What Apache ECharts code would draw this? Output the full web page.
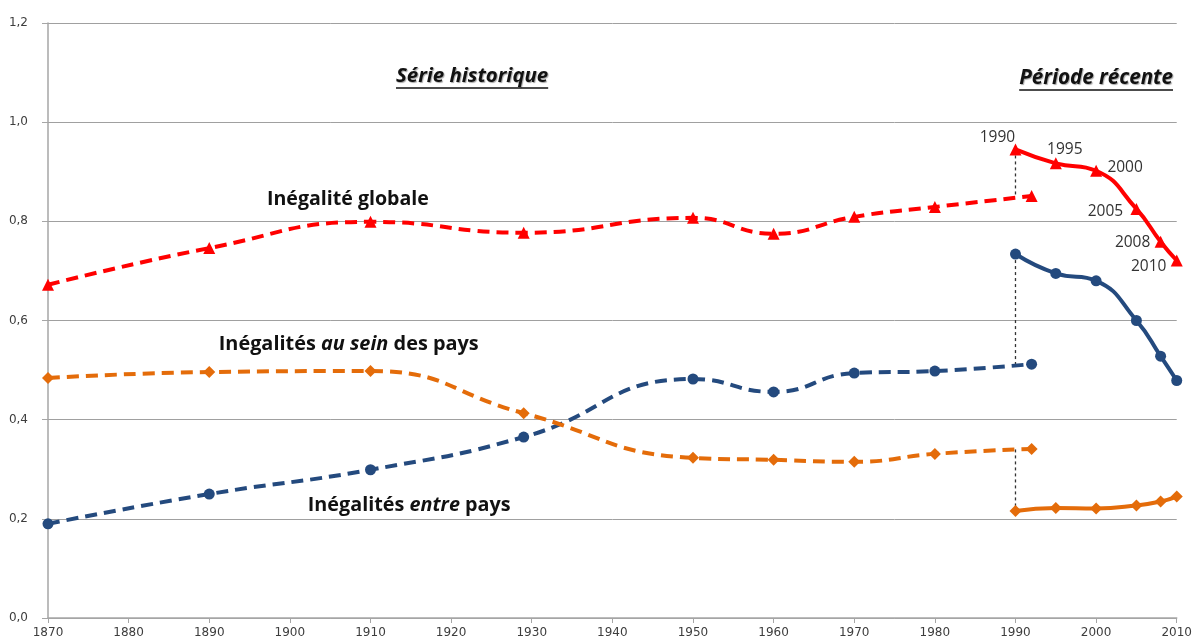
<!DOCTYPE html>
<html>
<head>
<meta charset="utf-8">
<script src="https://cdn.jsdelivr.net/npm/echarts@6/dist/echarts.min.js"></script>
<style>
html,body{margin:0;padding:0;background:#fff;}
#chart{width:1195px;height:642px;}
</style>
</head>
<body>
<div id="chart"></div>
<script>
// ---- data ----
const histYears = [1870, 1890, 1910, 1929, 1950, 1960, 1970, 1980, 1992];
const recentYears = [1990, 1995, 2000, 2005, 2008, 2010];

const globalHist = [0.672, 0.746, 0.799, 0.777, 0.807, 0.775, 0.809, 0.829, 0.851];
const globalRecent = [0.945, 0.917, 0.902, 0.825, 0.759, 0.721];

const betweenHist = [0.190, 0.250, 0.299, 0.365, 0.482, 0.456, 0.494, 0.498, 0.512];
const betweenRecent = [0.734, 0.695, 0.680, 0.600, 0.528, 0.479];

const withinHist = [0.484, 0.496, 0.498, 0.413, 0.323, 0.319, 0.315, 0.331, 0.341];
const withinRecent = [0.216, 0.222, 0.221, 0.227, 0.235, 0.245];

// connectors at 1990 (value on dashed curve at 1990)
const connectorYear = 1990;
const globalAt1990 = 0.850;
const betweenAt1990 = 0.511;
const withinAt1990 = 0.340;

const yTicks = [0, 0.2, 0.4, 0.6, 0.8, 1.0, 1.2];

const RED = '#ff0000', BLUE = '#244a7e', ORANGE = '#e46c0a';

function pairs(xs, ys) { return xs.map((x, i) => [x, ys[i]]); }

// year label offsets (pixel) for recent global points
const labelOffsets = [[-18, -12], [9, -14], [29, -3], [-31, 3], [-28, 1], [-28, 6]];

const chart = echarts.init(document.getElementById('chart'), null, {renderer: 'canvas'});

const dashed = [12, 7];

function lineSeries(name, data, color, symbol, size, dash, extra) {
  return Object.assign({
    name: name,
    type: 'line',
    data: data,
    smooth: 0.5,
    symbol: symbol,
    symbolSize: size,
    showAllSymbol: true,
    itemStyle: {color: color},
    lineStyle: {color: color, width: 4, type: dash ? dashed : 'solid', cap: 'butt'},
    z: 3,
    animation: false
  }, extra || {});
}

function connector(v1, v2) {
  return {
    type: 'line',
    data: [[connectorYear, v1], [connectorYear, v2]],
    symbol: 'none',
    lineStyle: {color: '#333', width: 1.3, type: [3, 3]},
    z: 2,
    silent: true,
    animation: false
  };
}

const globalRecentData = recentYears.map((y, i) => ({
  value: [y, globalRecent[i]],
  label: {
    show: true,
    formatter: String(y),
    position: 'inside',
    offset: labelOffsets[i],
    color: '#333',
    fontFamily: 'Open Sans',
    fontSize: 15.5
  }
}));

const axisLabelStyle = {color: '#3d3d3d', fontFamily: 'DejaVu Sans', fontSize: 12};

const option = {
  backgroundColor: '#fff',
  animation: false,
  grid: {left: 48, right: 15, top: 23, bottom: 24, containLabel: false},
  xAxis: {
    type: 'value',
    min: 1870, max: 2010, interval: 10,
    axisLine: {show: true, lineStyle: {color: '#a6a6a6', width: 1.5}},
    axisTick: {show: true, length: 5, lineStyle: {color: '#a6a6a6'}},
    splitLine: {show: false},
    axisLabel: Object.assign({margin: 9, formatter: v => String(v)}, axisLabelStyle)
  },
  yAxis: {
    type: 'value',
    min: yTicks[0], max: yTicks[yTicks.length - 1], interval: 0.2,
    axisLine: {show: true, lineStyle: {color: '#a6a6a6', width: 1.5}},
    axisTick: {show: true, length: 6, lineStyle: {color: '#a6a6a6'}},
    splitLine: {show: true, lineStyle: {color: '#a0a0a0', width: 1}},
    axisLabel: Object.assign({margin: 20, formatter: v => v.toFixed(1).replace('.', ',')}, axisLabelStyle)
  },
  series: [
    connector(globalRecent[0], globalAt1990),
    connector(betweenRecent[0], betweenAt1990),
    connector(withinAt1990, withinRecent[0]),
    lineSeries('Inégalité globale (historique)', pairs(histYears, globalHist), RED, 'triangle', 12, true),
    lineSeries('Inégalité globale (récente)', globalRecentData, RED, 'triangle', 12, false),
    lineSeries('Inégalités entre pays (historique)', pairs(histYears, betweenHist), BLUE, 'circle', 11, true),
    lineSeries('Inégalités entre pays (récente)', pairs(recentYears, betweenRecent), BLUE, 'circle', 11, false),
    lineSeries('Inégalités au sein des pays (historique)', pairs(histYears, withinHist), ORANGE, 'diamond', 12, true),
    lineSeries('Inégalités au sein des pays (récente)', pairs(recentYears, withinRecent), ORANGE, 'diamond', 12, false)
  ]
};
chart.setOption(option);

// ---- annotations anchored on data coordinates ----
// width: target rendered width in px (layout)
const annotations = [
  {pos: [1922.6, 1.093], width: 152, parts: [['Série historique', 'bi']], underline: true, shadow: true},
  {pos: [2000.0, 1.089], width: 154, parts: [['Période récente', 'bi']], underline: true, shadow: true},
  {pos: [1907.2, 0.845], width: 162, parts: [['Inégalité globale', 'b']]},
  {pos: [1907.3, 0.551], width: 260, parts: [['Inégalités ', 'b'], ['au sein', 'bi'], [' des pays', 'b']]},
  {pos: [1914.8, 0.228], width: 203, parts: [['Inégalités ', 'b'], ['entre', 'bi'], [' pays', 'b']]}
];

const FF = 'Open Sans';
const mctx = document.createElement('canvas').getContext('2d');
function fontStr(st, fs) { return (st === 'bi' ? 'italic ' : '') + 'bold ' + fs + 'px "' + FF + '"'; }
function measure(parts, fs) {
  let w = 0;
  parts.forEach(p => { mctx.font = fontStr(p[1], fs); w += mctx.measureText(p[0]).width; });
  return w;
}

function buildGraphic() {
  const g = [];
  annotations.forEach(a => {
    const c = chart.convertToPixel({gridIndex: 0}, a.pos);
    const base = 16;
    const fs = Math.round(base * a.width / measure(a.parts, base) * 10) / 10;
    const w = measure(a.parts, fs);
    const rich = {
      b: {fontFamily: FF, fontWeight: 'bold', fontSize: fs, fill: '#111'},
      bi: {fontFamily: FF, fontWeight: 'bold', fontStyle: 'italic', fontSize: fs, fill: '#111'}
    };
    const text = a.parts.map(p => '{' + p[1] + '|' + p[0] + '}').join('');
    const style = {text: text, rich: rich, x: c[0], y: c[1], align: 'center', verticalAlign: 'middle',
      font: fontStr('b', fs)};
    if (a.shadow) {
      style.textShadowColor = 'rgba(0,0,0,0.35)';
      style.textShadowBlur = 1;
      style.textShadowOffsetX = 1;
      style.textShadowOffsetY = 1;
    }
    g.push({type: 'text', silent: true, z: 10, style: style});
    if (a.underline) {
      const uy = c[1] + fs * 0.58;
      g.push({type: 'line', silent: true, z: 10,
        shape: {x1: c[0] - w / 2, y1: uy, x2: c[0] + w / 2, y2: uy},
        style: {stroke: '#111', lineWidth: 1.5}});
    }
  });
  return g;
}

function renderAnnotations() {
  const draw = () => chart.setOption({graphic: {elements: buildGraphic()}}, {replaceMerge: ['graphic']});
  if (document.fonts && document.fonts.load) {
    Promise.all([document.fonts.load(fontStr('b', 16)), document.fonts.load(fontStr('bi', 16))]).then(draw, draw);
  } else draw();
}
renderAnnotations();
</script>
</body>
</html>
